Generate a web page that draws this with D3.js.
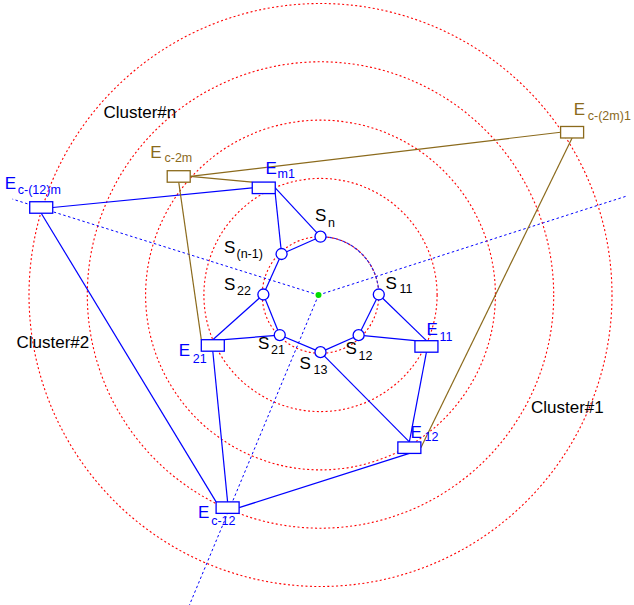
<!DOCTYPE html>
<html>
<head>
<meta charset="utf-8">
<script src="https://cdn.jsdelivr.net/npm/d3@7"></script>
<style>
  body { margin: 0; background: #fff; }
  svg { display: block; font-family: "Liberation Sans", Arial, sans-serif; }
  .ring { fill: none; stroke: #ff0000; stroke-width: 1.1; stroke-dasharray: 2 2.4; }
  .ray  { fill: none; stroke: #0000ff; stroke-width: 1; stroke-dasharray: 2.5 2.5; }
  .arc  { fill: none; stroke: #2a1ee0; stroke-width: 1.1; stroke-dasharray: 3 1.5; }
  .lnk  { fill: none; stroke-width: 1.2; }
  .node { fill: #fff; stroke-width: 1.3; }
</style>
</head>
<body>
<svg id="chart" width="634" height="605"></svg>
<script>
// concentric cluster rings, in ring units
const rings = [1, 2, 3, 4, 5];

// dashed cluster boundaries from the sink: angle (deg, counter-clockwise from east), length in ring units
const rays = [
  { angle: 162.6, len: 5.5 },
  { angle: 17.8,  len: 5.55 },
  { angle: 247.4, len: 6.0 },
];

// sensors on the inner ring
const sensors = [
  { id: 'Sn',  r: 1.0,  angle: 90 },
  { id: 'Sn1', r: 0.97, angle: 133.5 },
  { id: 'S22', r: 0.98, angle: 179.5 },
  { id: 'S21', r: 0.98, angle: 224.5 },
  { id: 'S13', r: 0.98, angle: 270 },
  { id: 'S12', r: 0.95, angle: 313.5 },
  { id: 'S11', r: 1.0,  angle: 0.5 },
];

// relay / cluster-head nodes
const relays = [
  { id: 'Em1',   r: 2.08, angle: 117.9, group: 'b' },
  { id: 'E11',   r: 2.02, angle: 334.1, group: 'b' },
  { id: 'E21',   r: 2.04, angle: 205.1, group: 'b' },
  { id: 'E12',   r: 3.03, angle: 300.2, group: 'b' },
  { id: 'Ec2m',  r: 3.17, angle: 140.1, group: 'o' },
  { id: 'Ec12',  r: 3.98, angle: 246.4, group: 'b' },
  { id: 'Ec12m', r: 5.02, angle: 162.6, group: 'b' },
  { id: 'Ec2m1', r: 5.14, angle: 32.9,  group: 'o' },
];

// links: [from, anchor, to, anchor, group]
const links = [
  ['Ec12m', 'r', 'Em1', 'l', 'b'],
  ['Ec12m', 'b', 'Ec12', 'tl', 'b'],
  ['Em1', 'r', 'Sn', 'c', 'b'],
  ['Em1', 'br', 'Sn1', 'c', 'b'],
  ['Sn', 'c', 'Sn1', 'c', 'b'],
  ['Sn1', 'c', 'S22', 'c', 'b'],
  ['S22', 'c', 'S21', 'c', 'b'],
  ['S21', 'c', 'S13', 'c', 'b'],
  ['S13', 'c', 'S12', 'c', 'b'],
  ['S12', 'c', 'S11', 'c', 'b'],
  ['S11', 'c', 'E11', 't', 'b'],
  ['S12', 'c', 'E11', 'tl', 'b'],
  ['S22', 'c', 'E21', 't', 'b'],
  ['S21', 'c', 'E21', 'tr', 'b'],
  ['S13', 'c', 'E12', 't', 'b'],
  ['E11', 'b', 'E12', 't', 'b'],
  ['E21', 'b', 'Ec12', 't', 'b'],
  ['E12', 'b', 'Ec12', 'r', 'b'],
  ['Ec2m', 'r', 'Em1', 'tl', 'o'],
  ['Ec2m', 'r', 'Ec2m1', 'l', 'o'],
  ['Ec2m', 'b', 'E21', 'tl', 'o'],
  ['Ec2m1', 'b', 'E12', 'r', 'o'],
];

// node labels: main letter, subscript, left x / baseline of each part
const labels = [
  { t: 'S', s: 'n',       x: 315,   y: 221,   sx: 328,   sy: 227,   g: 'k' },
  { t: 'S', s: '(n-1)',   x: 224,   y: 253,   sx: 236.5, sy: 258,   g: 'k' },
  { t: 'S', s: '22',      x: 224,   y: 290,   sx: 237,   sy: 295,   g: 'k' },
  { t: 'S', s: '11',      x: 385.5, y: 288.5, sx: 399.5, sy: 292.5, g: 'k' },
  { t: 'S', s: '21',      x: 258,   y: 348.5, sx: 271,   sy: 354,   g: 'k' },
  { t: 'S', s: '12',      x: 345.5, y: 353.5, sx: 358.5, sy: 360,   g: 'k' },
  { t: 'S', s: '13',      x: 299.5, y: 368.5, sx: 313.5, sy: 374,   g: 'k' },
  { t: 'E', s: 'm1',      x: 265.5, y: 174,   sx: 277.5, sy: 178.3, g: 'b' },
  { t: 'E', s: 'c-(12)m', x: 4.8,   y: 189,   sx: 17.8,  sy: 193.5, g: 'b' },
  { t: 'E', s: 'c-2m',    x: 150.2, y: 157.7, sx: 164.5, sy: 161.7, g: 'o' },
  { t: 'E', s: 'c-(2m)1', x: 573.8, y: 115,   sx: 587.8, sy: 120,   g: 'o' },
  { t: 'E', s: 'c-12',    x: 198,   y: 518.3, sx: 211.2, sy: 525,   g: 'b' },
  { t: 'E', s: '11',      x: 426.4, y: 335,   sx: 439.5, sy: 340.7, g: 'b' },
  { t: 'E', s: '12',      x: 410.4, y: 438.3, sx: 424.5, sy: 440.5, g: 'b' },
  { t: 'E', s: '21',      x: 178.7, y: 356,   sx: 192.8, sy: 363.3, g: 'b' },
];

const clusters = [
  { t: 'Cluster#n', x: 103.5, y: 118.3 },
  { t: 'Cluster#2', x: 16.5,  y: 348.2 },
  { t: 'Cluster#1', x: 531,   y: 412.8 },
];

const COLORS = { b: '#0000ff', o: '#8b6a1c', k: '#000' };
const CX = 320.5, CY = 295;     // ring centre
const SX = 318.5, SY = 295;     // sink
const RW = 23, RH = 11.5, SR = 5.5;

const svg = d3.select('#chart');
const rad = d3.scaleLinear().domain([0, 1]).range([0, 58.3]);

function pos(d, ox = CX, oy = CY) {
  const a = d.angle * Math.PI / 180;
  return [ox + rad(d.r) * Math.cos(a), oy - rad(d.r) * Math.sin(a)];
}

const nodeById = new Map();
sensors.forEach(d => nodeById.set(d.id, { ...d, kind: 's', p: pos(d) }));
relays.forEach(d => nodeById.set(d.id, { ...d, kind: 'e', p: pos(d) }));

function anchor(id, a) {
  const n = nodeById.get(id);
  const [x, y] = n.p;
  if (n.kind === 's' || a === 'c') return [x, y];
  const dx = { l: -1, r: 1, t: 0, b: 0, tl: -1, tr: 1, bl: -1, br: 1 }[a] * RW / 2;
  const dy = { l: 0, r: 0, t: -1, b: 1, tl: -1, tr: -1, bl: 1, br: 1 }[a] * RH / 2;
  return [x + dx, y + dy];
}

// rings
svg.append('g').selectAll('circle').data(rings).enter().append('circle')
  .attr('class', 'ring').attr('cx', CX).attr('cy', CY).attr('r', d => rad(d));

// boundary rays
svg.append('g').selectAll('line').data(rays).enter().append('line')
  .attr('class', 'ray')
  .attr('x1', SX).attr('y1', SY)
  .attr('x2', d => pos({ r: d.len, angle: d.angle }, SX, SY)[0])
  .attr('y2', d => pos({ r: d.len, angle: d.angle }, SX, SY)[1]);

// blue arc between S_n and S_11
const ap = d3.path();
ap.arc(CX, CY, rad(1), -Math.PI / 2, 0);
svg.append('path').attr('class', 'arc').attr('d', ap.toString());

// links
svg.append('g').selectAll('line').data(links).enter().append('line')
  .attr('class', 'lnk')
  .attr('stroke', d => COLORS[d[4]])
  .each(function (d) {
    const a = anchor(d[0], d[1]), b = anchor(d[2], d[3]);
    d3.select(this).attr('x1', a[0]).attr('y1', a[1]).attr('x2', b[0]).attr('y2', b[1]);
  });

// sink
svg.append('circle').attr('cx', SX).attr('cy', SY).attr('r', 3).attr('fill', '#00dd00');

// relay rectangles
svg.append('g').selectAll('rect').data(relays).enter().append('rect')
  .attr('class', 'node')
  .attr('stroke', d => COLORS[d.group])
  .attr('x', d => nodeById.get(d.id).p[0] - RW / 2)
  .attr('y', d => nodeById.get(d.id).p[1] - RH / 2)
  .attr('width', RW).attr('height', RH);

// sensor circles
svg.append('g').selectAll('circle').data(sensors).enter().append('circle')
  .attr('class', 'node')
  .attr('stroke', COLORS.b)
  .attr('cx', d => nodeById.get(d.id).p[0])
  .attr('cy', d => nodeById.get(d.id).p[1])
  .attr('r', SR);

// labels
const lg = svg.append('g');
labels.forEach(l => {
  lg.append('text').attr('x', l.x).attr('y', l.y)
    .attr('fill', COLORS[l.g]).style('font-size', '17px').text(l.t);
  lg.append('text').attr('x', l.sx).attr('y', l.sy)
    .attr('fill', COLORS[l.g]).style('font-size', '12.5px').text(l.s);
});

svg.append('g').selectAll('text').data(clusters).enter().append('text')
  .attr('x', d => d.x).attr('y', d => d.y)
  .style('font-size', '17px').attr('fill', '#000').text(d => d.t);
</script>
</body>
</html>
